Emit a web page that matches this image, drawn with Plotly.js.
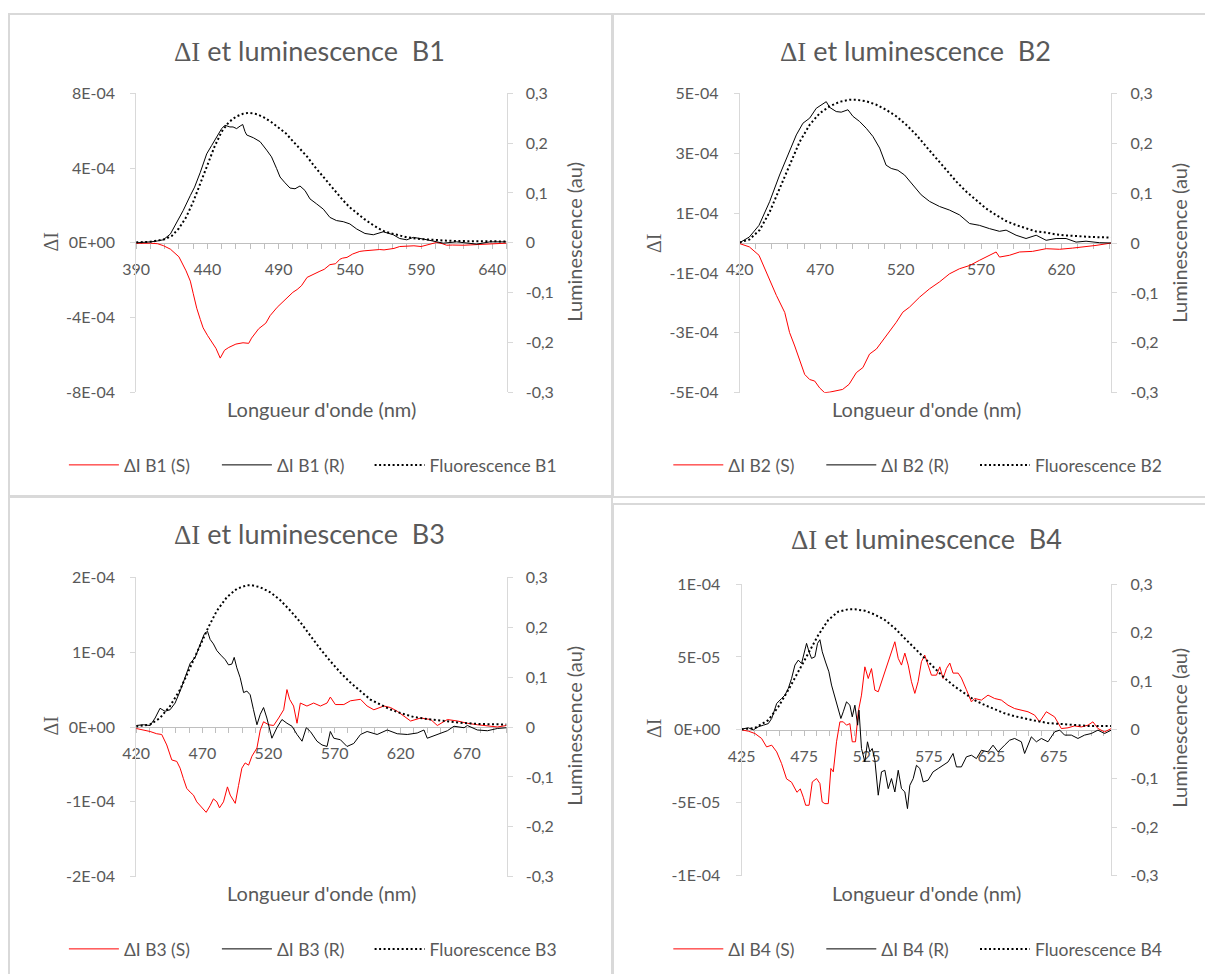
<!DOCTYPE html>
<html><head><meta charset="utf-8">
<script src="https://cdn.plot.ly/plotly-3.0.1.min.js"></script>
<style>html,body{margin:0;padding:0;background:#fff}#chart{width:1205px;height:974px}</style>
</head><body><div id="chart"></div>
<script>
// ---------- DATA ----------
// B1
const b1_wl_S = [390,395,400,405,409,414,420,425,428,430,432.5,435,437,440,444,446,449,452,455,460,465,469,471,476,481,484,489,493,496,500,503,506,510,515,519,522,526,530,533,535,538,542,545,547,550,554,558,561,564,568,571,575,580,585,590,595,599,601,605,608,612,616,620,625,631,636,640,643,647,650];
const b1_S = [-0.03e-4,-0.02e-4,-0.02e-4,-0.05e-4,-0.15e-4,-0.34e-4,-0.75e-4,-1.5e-4,-2.05e-4,-2.7e-4,-3.5e-4,-4.1e-4,-4.55e-4,-4.95e-4,-5.45e-4,-5.65e-4,-6.17e-4,-5.75e-4,-5.6e-4,-5.42e-4,-5.35e-4,-5.38e-4,-5.1e-4,-4.6e-4,-4.3e-4,-3.9e-4,-3.45e-4,-3.15e-4,-2.95e-4,-2.65e-4,-2.5e-4,-2.3e-4,-1.85e-4,-1.65e-4,-1.52e-4,-1.42e-4,-1.17e-4,-1.12e-4,-0.88e-4,-0.82e-4,-0.78e-4,-0.6e-4,-0.52e-4,-0.46e-4,-0.43e-4,-0.4e-4,-0.38e-4,-0.36e-4,-0.38e-4,-0.33e-4,-0.3e-4,-0.2e-4,-0.17e-4,-0.16e-4,-0.2e-4,-0.1e-4,-0.04e-4,0.02e-4,-0.05e-4,-0.13e-4,-0.12e-4,-0.13e-4,-0.13e-4,-0.11e-4,-0.09e-4,-0.08e-4,-0.07e-4,-0.07e-4,-0.04e-4,-0.02e-4];
const b1_wl_R = [390,395,400,405,409,414,418,423,428,431,435,439.5,443,446.5,450,452.3,455.8,458,460.5,463,464.8,466.4,467.6,472.3,477,481.6,485,488.6,491,494.5,498,501.5,505,508.5,512,516.7,521.4,526,530.6,535.4,540,544.8,550.6,556.5,563.5,570.5,575,580,584.6,591.6,598.6,605.6,615,624.3,629,638.4,650];
const b1_R = [0,0.02e-4,0.05e-4,0.1e-4,0.16e-4,0.47e-4,1.01e-4,1.73e-4,2.53e-4,2.98e-4,3.77e-4,4.76e-4,5.21e-4,5.66e-4,6.11e-4,6.29e-4,6.2e-4,6.2e-4,6.11e-4,6.25e-4,6.33e-4,5.95e-4,5.77e-4,5.62e-4,5.41e-4,4.96e-4,4.6e-4,3.97e-4,3.52e-4,3.21e-4,2.93e-4,2.89e-4,3.04e-4,2.8e-4,2.35e-4,2.08e-4,1.8e-4,1.36e-4,1.19e-4,1.13e-4,1.01e-4,0.74e-4,0.5e-4,0.43e-4,0.59e-4,0.43e-4,0.23e-4,0.16e-4,0.29e-4,0.2e-4,0.11e-4,-0.02e-4,0.05e-4,-0.02e-4,-0.07e-4,0.05e-4,0.05e-4];
const b1_wl_F = [390,400,410,415,420,425,430,435,440,445,450,455,460,465,469,475,480,485,490,495,500,505,510,515,520,525,530,535,540,545,550,555,560,565,570,575,580,590,600,610,620,630,640,650];
const b1_F = [0.001,0.002,0.007,0.014,0.029,0.051,0.082,0.119,0.159,0.193,0.223,0.242,0.253,0.259,0.261,0.258,0.251,0.242,0.231,0.22,0.204,0.189,0.173,0.154,0.137,0.119,0.102,0.086,0.071,0.059,0.048,0.038,0.029,0.022,0.018,0.014,0.011,0.0074,0.0054,0.004,0.0034,0.0027,0.0027,0.0027];

// B2
const b2_wl_S = [420,426,432,436.6,442.8,448,451,454.2,457.3,460.4,463.5,466.6,469.7,472.8,476,480,484,488,492.5,496.6,500.7,505,509,513,517.3,521.4,525.6,531.8,538,544.2,550.4,556.6,563,569,575.3,579.4,581.5,587.7,594,602,610.5,618.8,627,635.3,641.5,651];
const b2_S = [-0.02e-4,-0.13e-4,-0.41e-4,-0.97e-4,-1.75e-4,-2.32e-4,-2.99e-4,-3.44e-4,-3.88e-4,-4.39e-4,-4.56e-4,-4.61e-4,-4.84e-4,-5.0e-4,-4.98e-4,-4.94e-4,-4.89e-4,-4.72e-4,-4.33e-4,-4.16e-4,-3.71e-4,-3.54e-4,-3.26e-4,-2.98e-4,-2.65e-4,-2.31e-4,-2.14e-4,-1.81e-4,-1.53e-4,-1.3e-4,-1.03e-4,-0.86e-4,-0.75e-4,-0.58e-4,-0.41e-4,-0.3e-4,-0.47e-4,-0.41e-4,-0.3e-4,-0.28e-4,-0.19e-4,-0.21e-4,-0.17e-4,-0.13e-4,-0.08e-4,0];
const b2_wl_R = [420,426,432,438.6,444.8,450,455.2,459.3,463.5,467.6,471.8,473.8,475.9,480,483.1,487.3,490.4,494.5,498.7,502.8,507,511,514.2,518.3,522.5,527.7,532.8,538,544.2,550.4,556.6,562.9,569,575.3,581.5,585.6,591.8,598,604.3,610.5,616.7,622.9,629.1,635.3,643.6,651];
const b2_R = [0.01e-4,0.2e-4,0.59e-4,1.38e-4,2.27e-4,2.94e-4,3.61e-4,4.0e-4,4.17e-4,4.5e-4,4.67e-4,4.72e-4,4.53e-4,4.39e-4,4.37e-4,4.45e-4,4.23e-4,4.06e-4,3.83e-4,3.56e-4,3.17e-4,2.6e-4,2.49e-4,2.43e-4,2.27e-4,1.94e-4,1.61e-4,1.39e-4,1.22e-4,1.1e-4,0.94e-4,0.65e-4,0.59e-4,0.48e-4,0.39e-4,0.43e-4,0.26e-4,0.15e-4,0.26e-4,0.09e-4,0.15e-4,0.15e-4,0.03e-4,0.06e-4,0.01e-4,0];
const b2_wl_F = [420,426,432.4,438.6,444.8,451,457.3,463.5,469.7,476,482.1,488.3,492.5,498.7,505,511,517.3,523.5,529.7,536,542.2,548.4,554.7,560.8,567,573.2,579.4,585.6,591.8,598,604.3,610.5,616.7,622.9,631.2,639.5,651];
const b2_F = [0.001,0.007,0.026,0.062,0.109,0.156,0.203,0.237,0.26,0.274,0.283,0.287,0.287,0.284,0.277,0.267,0.254,0.237,0.217,0.193,0.17,0.146,0.123,0.103,0.086,0.069,0.056,0.044,0.036,0.029,0.023,0.021,0.017,0.015,0.013,0.012,0.011];

// B3
const b3_wl_S = [420,425.4,430.5,435.5,439.3,443.1,446.9,450.7,453.2,455.7,458.2,460.8,463.3,465.8,468.3,470.9,472.9,475.9,478.4,481,483,486,489,491.1,494.9,497.4,499.9,502.4,505,507.5,511.3,513.8,516.3,520.1,523.9,527.7,531.5,534,536,539,541.6,544.1,549.1,554.2,559.3,564.3,566.8,570.6,577,582,589.6,594.6,599.7,607.3,612.3,617.4,622.4,627.5,635.1,642.7,647.7,655.3,662.9,670.4,678,685.6,693.1,700];
const b3_S = [-0.02e-4,-0.04e-4,-0.06e-4,-0.09e-4,-0.1e-4,-0.24e-4,-0.44e-4,-0.46e-4,-0.55e-4,-0.69e-4,-0.82e-4,-0.87e-4,-0.91e-4,-1.0e-4,-1.05e-4,-1.09e-4,-1.14e-4,-1.05e-4,-0.96e-4,-1.0e-4,-1.08e-4,-1.0e-4,-0.8e-4,-0.91e-4,-1.02e-4,-0.78e-4,-0.55e-4,-0.48e-4,-0.51e-4,-0.39e-4,-0.28e-4,-0.04e-4,0.07e-4,0.03e-4,0.02e-4,0.12e-4,0.23e-4,0.5e-4,0.37e-4,0.28e-4,0.05e-4,0.32e-4,0.28e-4,0.32e-4,0.28e-4,0.32e-4,0.4e-4,0.3e-4,0.3e-4,0.35e-4,0.37e-4,0.28e-4,0.23e-4,0.28e-4,0.26e-4,0.21e-4,0.14e-4,0.08e-4,0.12e-4,0.1e-4,0.02e-4,0.1e-4,0.08e-4,0.05e-4,0.03e-4,0.01e-4,0,0.02e-4];
const b3_wl_R = [420,425.4,430.5,434.3,438,441.8,445.6,449.4,453.2,457,460.8,464.6,468.3,471.4,473.9,475.9,478.4,481,484,487.3,489.8,492.3,494.1,496.1,498.6,501.2,503.7,506.2,508.7,511.3,513.8,516.3,518.8,522.6,526.4,530.2,534,537.8,541.6,545.4,548.6,551.7,556.7,560.5,564.3,566.8,569.4,574.4,579.4,584.5,589.6,594.6,602.2,609.8,617.4,625,632.5,637.6,640.1,647.7,655.3,660.3,667.9,670.4,678,685.6,693.1,700];
const b3_R = [0.02e-4,0.03e-4,0.02e-4,0.12e-4,0.25e-4,0.21e-4,0.23e-4,0.32e-4,0.48e-4,0.66e-4,0.85e-4,0.93e-4,1.11e-4,1.24e-4,1.28e-4,1.17e-4,1.11e-4,1.02e-4,0.96e-4,0.9e-4,0.83e-4,0.84e-4,0.93e-4,0.79e-4,0.66e-4,0.46e-4,0.48e-4,0.43e-4,0.23e-4,0.03e-4,0.17e-4,0.26e-4,0.12e-4,-0.15e-4,-0.01e-4,0.1e-4,0.05e-4,0.01e-4,-0.1e-4,-0.19e-4,-0.01e-4,-0.06e-4,-0.19e-4,-0.24e-4,-0.26e-4,-0.06e-4,-0.15e-4,-0.17e-4,-0.26e-4,-0.22e-4,-0.1e-4,-0.06e-4,-0.1e-4,-0.04e-4,-0.09e-4,-0.1e-4,-0.08e-4,-0.04e-4,-0.15e-4,-0.1e-4,-0.05e-4,0.01e-4,-0.01e-4,0.02e-4,-0.04e-4,-0.05e-4,-0.02e-4,-0.01e-4];
const b3_wl_F = [420,430.5,438,445.6,453.2,460.8,468.3,474.6,481,488.5,496.1,503.7,507.5,513.8,521.4,529,536.6,544.1,551.7,559.3,566.8,574.4,582,589.6,597.1,604.7,612.3,619.8,629.9,642.5,655.1,667.7,680.3,700];
const b3_F = [0.001,0.005,0.018,0.042,0.075,0.119,0.163,0.2,0.233,0.26,0.277,0.284,0.284,0.28,0.27,0.254,0.233,0.21,0.183,0.156,0.132,0.109,0.089,0.072,0.055,0.045,0.035,0.028,0.02,0.015,0.011,0.008,0.006,0.005];

// B4
const b4_wl_S = [425,430.4,435.7,441,445,449.1,453.1,457,461,465,469.3,472,474.4,476.3,479,481.6,485,487.7,489.5,491.7,494.4,496.5,498.4,501,503.7,506.4,509,511.7,513.6,516.2,518.4,521,523.7,526.4,529,531.7,534.4,537,539.7,542.4,545,547.7,550.4,553,555.7,558.4,561,563.7,566.3,569,571.6,574.3,577,581,583.7,586.3,589,591.7,594.3,598.4,601,605,609,611.6,617,622.3,627.6,633,638.3,643.6,649,654.3,659.6,663.6,669,675.6,681,686.3,691.6,697,702.3,706.3,710.3,715.6,721];
const b4_S = [0,-0.09e-5,-0.25e-5,-0.59e-5,-1.17e-5,-1.05e-5,-1.51e-5,-2.31e-5,-3.36e-5,-3.59e-5,-4.28e-5,-4.05e-5,-4.62e-5,-5.17e-5,-5.17e-5,-3.57e-5,-3.34e-5,-3.68e-5,-4.94e-5,-5.06e-5,-5.06e-5,-2.65e-5,-2.88e-5,-0.82e-5,0.55e-5,0.55e-5,0.32e-5,0.43e-5,-0.82e-5,-0.82e-5,1.24e-5,2.38e-5,4.32e-5,3.52e-5,4.2e-5,2.72e-5,2.61e-5,3.29e-5,3.98e-5,4.67e-5,5.35e-5,6.04e-5,4.9e-5,4.44e-5,5.26e-5,4.44e-5,3.3e-5,2.5e-5,3.3e-5,4.67e-5,5.13e-5,4.44e-5,3.75e-5,3.75e-5,4.32e-5,3.52e-5,4.2e-5,4.58e-5,3.89e-5,3.89e-5,3.55e-5,2.75e-5,1.92e-5,2.15e-5,2.04e-5,2.38e-5,2.15e-5,2.04e-5,1.69e-5,1.46e-5,1.35e-5,1.24e-5,1.01e-5,0.55e-5,1.24e-5,0.89e-5,0.09e-5,0.14e-5,0.27e-5,0.2e-5,0.32e-5,0.55e-5,0.09e-5,-0.14e-5,0.09e-5];
const b4_wl_R = [425,430.4,434.4,438.4,442.4,446.4,449.1,453.1,457,459.7,462.4,465,467.7,470.4,473,475.2,477,479,481,483.7,485.8,487.7,489.6,492.2,494.9,497,499.7,502.3,504.5,506.4,509,511.7,513.6,515.7,517.9,519,521,523.7,525.8,527.7,529.6,531.7,534.4,537,539.7,542.4,545,547.7,550.4,553,555.7,557.8,559.7,562.4,565,567.7,570.4,574.3,578.3,582.4,586.3,590.3,594.3,597,601,605,609,613,617,622.3,626.3,630.3,635.6,639.6,643.6,649,651.6,657,661,665,670.3,675.6,679.7,683.6,689,694.3,699.6,705,710.3,715.6,721];
const b4_R = [0.05e-5,0.14e-5,0,0.21e-5,0.32e-5,0.43e-5,0.78e-5,1.81e-5,2.15e-5,2.38e-5,2.84e-5,3.52e-5,4.44e-5,4.78e-5,4.55e-5,5.24e-5,5.93e-5,5.35e-5,4.9e-5,5.01e-5,5.93e-5,6.18e-5,5.35e-5,4.65e-5,3.98e-5,3.07e-5,2.27e-5,1.46e-5,0.78e-5,1.24e-5,1.92e-5,1.69e-5,0.89e-5,1.69e-5,0.32e-5,1.35e-5,-1.28e-5,-2.2e-5,-0.82e-5,-1.51e-5,-1.28e-5,-2.08e-5,-4.48e-5,-2.88e-5,-2.77e-5,-4.03e-5,-3.34e-5,-4.26e-5,-2.77e-5,-4.03e-5,-4.26e-5,-5.4e-5,-3.8e-5,-3.34e-5,-2.43e-5,-2.65e-5,-3.57e-5,-3.45e-5,-2.88e-5,-2.65e-5,-2.43e-5,-2.2e-5,-1.62e-5,-2.54e-5,-2.54e-5,-1.85e-5,-1.74e-5,-1.97e-5,-1.4e-5,-1.51e-5,-1.05e-5,-1.51e-5,-1.05e-5,-0.71e-5,-0.59e-5,-0.82e-5,-1.62e-5,-0.48e-5,-0.82e-5,-0.59e-5,-0.82e-5,-0.14e-5,-0.02e-5,-0.36e-5,-0.36e-5,-0.59e-5,-0.36e-5,-0.25e-5,-0.02e-5,-0.25e-5,-0.02e-5];
const b4_wl_F = [425,435.7,446.4,454.3,462.4,470.4,478.4,486.4,494.4,502.3,510.3,515.7,523.7,531.7,539.7,547.7,555.7,563.7,571.7,579.7,587.7,595.7,603.6,611.6,619.6,627.6,635.6,643.6,651.6,659.6,670.3,681,691.6,702.3,713,721];
const b4_F = [0.001,0.004,0.02,0.047,0.082,0.119,0.157,0.195,0.226,0.243,0.248,0.248,0.245,0.237,0.226,0.209,0.188,0.167,0.147,0.126,0.106,0.089,0.075,0.061,0.051,0.042,0.034,0.028,0.023,0.019,0.014,0.012,0.01,0.008,0.008,0.008];

// Tick labels
const b1_yTickVals = [-8e-4,-4e-4,0,4e-4,8e-4];
const b1_yTickText = ['-8E-04','-4E-04','0E+00','4E-04','8E-04'];
const b2_yTickVals = [-5e-4,-3e-4,-1e-4,1e-4,3e-4,5e-4];
const b2_yTickText = ['-5E-04','-3E-04','-1E-04','1E-04','3E-04','5E-04'];
const b3_yTickVals = [-2e-4,-1e-4,0,1e-4,2e-4];
const b3_yTickText = ['-2E-04','-1E-04','0E+00','1E-04','2E-04'];
const b4_yTickVals = [-1e-4,-5e-5,0,5e-5,1e-4];
const b4_yTickText = ['-1E-04','-5E-05','0E+00','5E-05','1E-04'];
const lumTickVals = [-0.3,-0.2,-0.1,0,0.1,0.2,0.3];
const lumTickText = ['-0,3','-0,2','-0,1','0','0,1','0,2','0,3'];

const panelNames = ['B1','B2','B3','B4'];

// ---------- LAYOUT HELPERS ----------
const W = 1205, H = 974;
const px = x => x / W;
const py = y => 1 - y / H;
const FONT = 'Lato, "Open Sans", sans-serif';
const SERIF = '"Liberation Serif", "DejaVu Serif", serif';
const GREY = '#595959';

// pixel geometry of each panel: plot box and label positions
const panels = [
  {l:136.2, r:506.5, t:93.3, b:392.3, xr:[390,650], t0:390, yv:b1_yTickVals, yt:b1_yTickText, yr:[-8e-4,8e-4],
   title:[310,50], dI:[50.6,242], lum:[573.8,242], xt:[321,409], leg:[63.9,465], legF:[369.6,465]},
  {l:739.7, r:1111.3, t:93.3, b:392.7, xr:[420,651], t0:420, yv:b2_yTickVals, yt:b2_yTickText, yr:[-5e-4,5e-4],
   title:[915.5,50], dI:[654,243], lum:[1178.7,243], xt:[926,409], leg:[668.3,465], legF:[975,465]},
  {l:136.2, r:506.5, t:577.3, b:876.7, xr:[420,700], t0:420, yv:b3_yTickVals, yt:b3_yTickText, yr:[-2e-4,2e-4],
   title:[310,533], dI:[50.6,726], lum:[573.8,726], xt:[321,893], leg:[63.9,949], legF:[369.6,949]},
  {l:741.6, r:1111.3, t:584, b:875.7, xr:[425,721], t0:425, yv:b4_yTickVals, yt:b4_yTickText, yr:[-1e-4,1e-4],
   title:[926,538], dI:[654,728], lum:[1178.7,728], xt:[926,893], leg:[668.3,949], legF:[975,949]}
];

const series = [
  [b1_wl_S,b1_S,b1_wl_R,b1_R,b1_wl_F,b1_F],
  [b2_wl_S,b2_S,b2_wl_R,b2_R,b2_wl_F,b2_F],
  [b3_wl_S,b3_S,b3_wl_R,b3_R,b3_wl_F,b3_F],
  [b4_wl_S,b4_S,b4_wl_R,b4_R,b4_wl_F,b4_F]
];

const tickFont = {family: FONT, size: 16, color: GREY};
const legFont = {family: FONT, size: 17.5, color: GREY};
const layout = {
  width: W, height: H, margin: {l:0, r:0, t:0, b:0},
  paper_bgcolor: '#ffffff', plot_bgcolor: 'rgba(0,0,0,0)',
  showlegend: true, annotations: [], shapes: []
};
const traces = [];

panels.forEach((p, i) => {
  const k = i + 1;
  const xName = k === 1 ? 'xaxis' : 'xaxis' + k;
  const xRef = k === 1 ? 'x' : 'x' + k;
  const yL = 2 * i + 1, yR = 2 * i + 2;
  const yLName = yL === 1 ? 'yaxis' : 'yaxis' + yL;
  const yLRef = yL === 1 ? 'y' : 'y' + yL;
  const yRName = 'yaxis' + yR, yRRef = 'y' + yR;
  const legName = k === 1 ? 'legend' : 'legend' + k;
  const legFName = 'legend' + (k + 4);
  const yDom = [py(p.b), py(p.t)];
  layout[xName] = {
    domain: [px(p.l), px(p.r)], anchor: 'free', position: (yDom[0] + yDom[1]) / 2,
    range: p.xr, tickmode: 'linear', tick0: p.t0, dtick: 50,
    showline: true, linecolor: '#bfbfbf', linewidth: 1,
    ticks: 'outside', ticklen: 5, tickcolor: '#bfbfbf', tickwidth: 1,
    minor: {tick0: p.t0, dtick: 10, ticks: 'outside', ticklen: 5, tickcolor: '#bfbfbf', showgrid: false},
    showgrid: false, zeroline: false, tickfont: tickFont, ticklabelstandoff: 7,
    layer: 'below traces', fixedrange: true
  };
  layout[yLName] = {
    domain: yDom, anchor: xRef, range: p.yr, tickmode: 'array', tickvals: p.yv, ticktext: p.yt,
    showline: true, linecolor: '#d9d9d9', linewidth: 1, ticks: 'outside', ticklen: 5, tickcolor: '#d9d9d9',
    showgrid: false, zeroline: false, tickfont: tickFont, ticklabelstandoff: 12, fixedrange: true
  };
  layout[yRName] = {
    overlaying: yLRef, side: 'right', anchor: xRef, range: [-0.3, 0.3], tickmode: 'array',
    tickvals: lumTickVals, ticktext: lumTickText,
    showline: true, linecolor: '#d9d9d9', linewidth: 1, ticks: 'outside', ticklen: 5, tickcolor: '#d9d9d9',
    showgrid: false, zeroline: false, tickfont: tickFont, ticklabelstandoff: 10, fixedrange: true
  };
  layout[legName] = {
    orientation: 'h', x: px(p.leg[0]), y: py(p.leg[1]), xanchor: 'left', yanchor: 'middle',
    font: legFont, bgcolor: 'rgba(0,0,0,0)', itemwidth: 50, entrywidth: 88, traceorder: 'normal'
  };
  layout[legFName] = {
    orientation: 'h', x: px(p.legF[0]), y: py(p.legF[1]), xanchor: 'left', yanchor: 'middle',
    font: legFont, bgcolor: 'rgba(0,0,0,0)', itemwidth: 50
  };
  const s = series[i];
  const nm = panelNames[i];
  traces.push({x: s[0], y: s[1], xaxis: xRef, yaxis: yLRef, mode: 'lines', name: 'ΔI ' + nm + ' (S)',
    line: {color: '#ff0000', width: 1}, legend: legName, hoverinfo: 'skip'});
  traces.push({x: s[2], y: s[3], xaxis: xRef, yaxis: yLRef, mode: 'lines', name: 'ΔI ' + nm + ' (R)',
    line: {color: '#000000', width: 1}, legend: legName, hoverinfo: 'skip'});
  traces.push({x: s[4], y: s[5], xaxis: xRef, yaxis: yRRef, mode: 'lines', name: 'Fluorescence ' + nm,
    line: {color: '#000000', width: 2, dash: '2px,2.5px'}, legend: legFName, hoverinfo: 'skip'});

  layout.annotations.push(
    {text: '<span style="font-family:' + "'Liberation Serif'" + '">ΔI</span> et luminescence\u00a0\u00a0' + nm,
     x: px(p.title[0]), y: py(p.title[1]), xref: 'paper', yref: 'paper', xanchor: 'center', yanchor: 'middle',
     showarrow: false, font: {family: FONT, size: 27, color: GREY}},
    {text: 'ΔI', x: px(p.dI[0]), y: py(p.dI[1]), xref: 'paper', yref: 'paper', xanchor: 'center', yanchor: 'middle',
     textangle: -90, showarrow: false, font: {family: SERIF, size: 20, color: GREY}},
    {text: 'Luminescence (au)', x: px(p.lum[0]), y: py(p.lum[1]), xref: 'paper', yref: 'paper', xanchor: 'center', yanchor: 'middle',
     textangle: -90, showarrow: false, font: {family: FONT, size: 20, color: GREY}},
    {text: "Longueur d'onde (nm)", x: px(p.xt[0]), y: py(p.xt[1]), xref: 'paper', yref: 'paper', xanchor: 'center', yanchor: 'middle',
     showarrow: false, font: {family: FONT, size: 20, color: GREY}}
  );
});

// panel frames
const frames = [[9,14,612,497],[613,14,1216,497],[9,496,612,990],[613,504,1216,990]];
frames.forEach(f => layout.shapes.push({type:'rect', xref:'paper', yref:'paper',
  x0: px(f[0]), x1: px(f[2]), y0: py(f[3]), y1: py(f[1]), line: {color:'#d9d9d9', width: 2}, layer: 'below'}));

Plotly.newPlot('chart', traces, layout, {displayModeBar: false, staticPlot: true});
</script></body></html>
